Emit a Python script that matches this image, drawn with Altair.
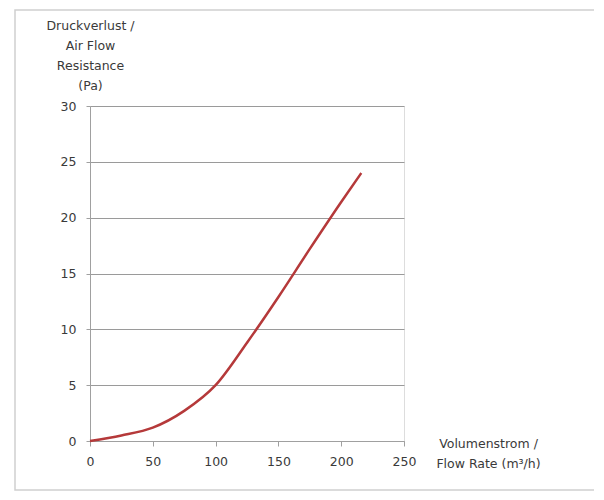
import altair as alt
import pandas as pd

flow = [0, 25, 50, 75, 100, 125, 150, 175, 200, 216]
pressure = [0, 0.5, 1.2, 2.7, 5.0, 8.8, 12.9, 17.2, 21.4, 24.0]
y_title = ["Druckverlust /", "Air Flow", "Resistance", "(Pa)"]
x_title = ["Volumenstrom /", "Flow Rate (m³/h)"]

df = pd.DataFrame({"flow": flow, "pressure": pressure})
FONT = "DejaVu Sans"
FS = 12.5
TC = "#3a3a3a"

line = alt.Chart(df).mark_line(color="#b5393a", strokeWidth=2.5, interpolate="monotone").encode(
    x=alt.X("flow:Q",
            scale=alt.Scale(domain=[0, 250], nice=False),
            axis=alt.Axis(values=[0, 50, 100, 150, 200, 250], grid=False, labelFlush=False,
                          title=x_title, titleAngle=0, titleAlign="center",
                          titleX=398, titleY=6, titleBaseline="alphabetic",
                          titleLineHeight=20, titleFontWeight="normal",
                          titleFontSize=FS, titleColor=TC, titleFont=FONT,
                          labelFont=FONT, labelFontSize=FS, labelColor=TC,
                          tickSize=5, labelPadding=9, domainColor="#a0a0a0",
                          tickColor="#a0a0a0")),
    y=alt.Y("pressure:Q",
            scale=alt.Scale(domain=[0, 30], nice=False),
            axis=alt.Axis(values=[0, 5, 10, 15, 20, 25, 30], grid=True, gridColor="#9a9a9a",
                          labelFlush=False,
                          title=y_title, titleAngle=0, titleAlign="center",
                          titleX=0, titleY=-77, titleBaseline="alphabetic",
                          titleLineHeight=20, titleFontWeight="normal",
                          titleFontSize=FS, titleColor=TC, titleFont=FONT,
                          labelFont=FONT, labelFontSize=FS, labelColor=TC,
                          tickSize=4, labelPadding=10, domainColor="#a0a0a0",
                          tickColor="#a0a0a0")),
)

frame = alt.Chart(pd.DataFrame({"a": [0]})).mark_rect(fill=None, stroke="#d0d0d0", strokeWidth=1.5).encode(
    x=alt.value(-75), x2=alt.value(505), y=alt.value(-96), y2=alt.value(384)
)

chart = alt.layer(frame, line).properties(
    width=314, height=335,
    autosize=alt.AutoSizeParams(type="none"),
    padding={"left": 82, "top": 98, "right": 190, "bottom": 50},
).configure_view(stroke=None).configure(background="white")

chart.save("out.html", embed_options={"renderer": "svg", "actions": False})
